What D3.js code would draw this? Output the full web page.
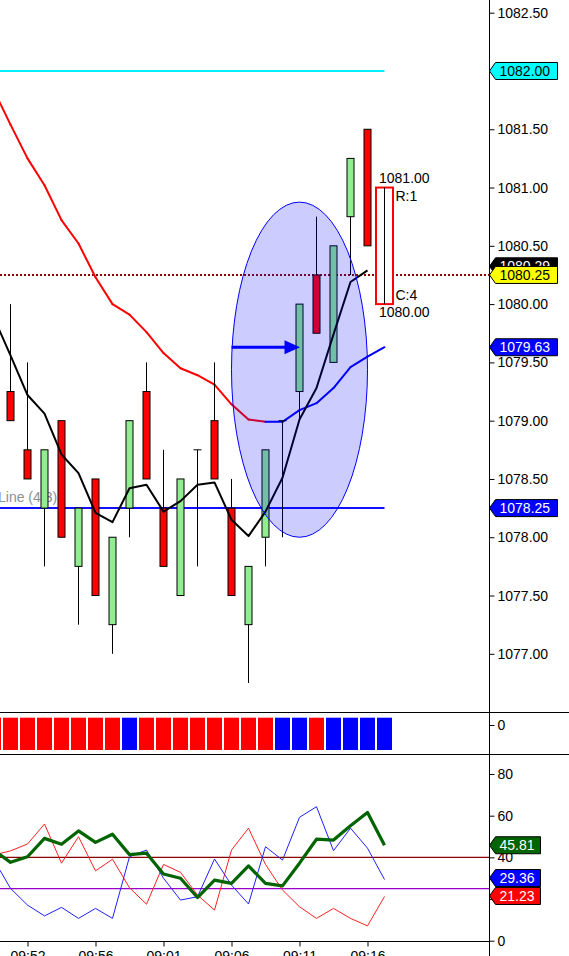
<!DOCTYPE html>
<html><head><meta charset="utf-8">
<script src="https://cdn.jsdelivr.net/npm/d3@7"></script>
<style>html,body{margin:0;padding:0;background:#fff;overflow:hidden}svg{display:block}</style>
</head><body>
<svg id="c" width="569" height="956"></svg>
<script>
// ---------- DATA ----------
// candles, bars 0..21
const opens  = [1079.25,1078.75,1078.25,1079.00,1077.75,1078.50,1077.25,1078.25,1079.25,1078.25,1077.50,1078.75,1079.00,1078.25,1077.25,1078.00,1079.00,1079.25,1080.25,1079.50,1080.75,1081.50];
const highs  = [1080.00,1079.50,1078.75,1079.00,1078.25,1078.50,1078.00,1079.00,1079.50,1078.75,1078.50,1078.75,1079.50,1078.50,1077.75,1078.75,1079.00,1080.00,1080.75,1080.50,1081.25,1081.50];
const lows   = [1079.00,1078.50,1077.75,1078.00,1077.25,1077.50,1077.00,1078.00,1078.50,1077.75,1077.50,1077.75,1078.50,1077.50,1076.75,1077.75,1078.00,1079.00,1079.75,1079.50,1080.25,1080.50];
const closes = [1079.00,1078.50,1078.75,1078.00,1078.25,1077.50,1078.00,1079.00,1078.50,1077.75,1078.50,1078.75,1078.50,1077.50,1077.75,1078.75,1079.00,1080.00,1079.75,1080.50,1081.25,1080.50];
// forming bar (22) range box
const boxBar = 22, boxHigh = 1081.00, boxLow = 1080.00, boxR = "R:1", boxC = "C:4";
// moving averages, bars -1..22 / -1..21
const slowMA = [1081.84,1081.54,1081.25,1081.02,1080.72,1080.52,1080.23,1080.00,1079.91,1079.76,1079.58,1079.45,1079.39,1079.31,1079.14,1079.01,1078.99,1078.99,1079.09,1079.15,1079.28,1079.46,1079.55,1079.63];
const fastMA = [1079.89,1079.56,1079.22,1079.06,1078.71,1078.55,1078.21,1078.13,1078.42,1078.45,1078.22,1078.31,1078.45,1078.47,1078.15,1078.01,1078.22,1078.51,1079.01,1079.28,1079.74,1080.19,1080.29];
// horizontal lines
const cyanLevel = 1082.00, blueLevel = 1078.25, lastPrice = 1080.25;
const lineLabel = "Line (4.3)";
// ellipse / arrow annotation
const ellBars = [13, 21], ellPrices = [1078.00, 1080.875];
const arrowBars = [13, 17], arrowPrice = 1079.63;
// direction panel, bars -1..22 (r = red, b = blue)
const dirColors = ["r","r","r","r","r","r","r","r","b","r","r","r","r","r","r","r","r","b","b","r","b","b","b","b"];
// oscillator panel, bars -1..22
const oscMain = [43.5,37.6,40.3,49.1,46.3,52.7,47.2,51.1,41.3,42.0,32.0,30.0,20.7,29.1,27.5,35.9,27.5,26.3,37.2,48.7,48.3,55.2,61.5,45.81];
const oscBlue = [39.1,25.1,17.1,11.9,16.0,10.7,15.5,10.7,40.3,43.5,30.0,19.5,21.1,39.2,26.7,17.6,45.1,38.7,59.2,64.3,43.2,54.0,44.4,29.36];
const oscRed  = [41.1,43.1,46.4,56.0,37.2,49.9,33.5,39.1,25.4,17.5,36.6,32.8,21.9,14.7,43.5,54.0,36.6,24.3,16.3,10.7,15.5,10.7,7.1,21.23];
const oscLevels = [40, 25];
// axes (labels hidden behind tags are left out: 1082.00 and 20)
const priceTicks = [1077.00,1077.50,1078.00,1078.50,1079.00,1079.50,1080.00,1080.50,1081.00,1081.50,1082.50];
const oscTicks = [0,40,60,80];
const timeLabels = ["09:52","09:56","09:01","09:06","09:11","09:16"];
const timeBars = [1,5,9,13,17,21];

// ---------- SCALES ----------
const FONT = "'Liberation Sans', Arial, sans-serif";
const svg = d3.select("#c");
const AX = 489.5;
const x = d3.scaleLinear().domain([-1, 22]).range([-6.5, 384.5]);
const y = d3.scaleLinear().domain([1077, 1082.5]).range([653.8, 12.7]);
const yo = d3.scaleLinear().domain([0, 80]).range([940.7, 774]);

const main = svg.append("g");
svg.append("clipPath").attr("id","mc").append("rect").attr("x",0).attr("y",0).attr("width",AX).attr("height",712);
const mg = main.append("g").attr("clip-path","url(#mc)");

// horizontal lines
mg.append("line").attr("x1",0).attr("x2",x(22)).attr("y1",y(cyanLevel)).attr("y2",y(cyanLevel))
  .attr("stroke","#00f0ff").attr("stroke-width",2);
mg.append("line").attr("x1",0).attr("x2",x(22)).attr("y1",y(blueLevel)).attr("y2",y(blueLevel))
  .attr("stroke","#1010ff").attr("stroke-width",2);
mg.append("text").attr("x",-2).attr("y",y(blueLevel)-6).attr("font-family",FONT).attr("font-size",14)
  .attr("fill","#8a8f9a").text(lineLabel);
mg.append("line").attr("x1",0).attr("x2",AX).attr("y1",y(lastPrice)).attr("y2",y(lastPrice))
  .attr("stroke","#8b0000").attr("stroke-width",2).attr("stroke-dasharray","2,2");

// slow MA colored by direction
const slowIdx = d3.range(-1, 23);
for (let i = 0; i < slowMA.length - 1; i++) {
  const up = slowMA[i+1] >= slowMA[i];
  mg.append("line").attr("x1",x(slowIdx[i])).attr("y1",y(slowMA[i]))
    .attr("x2",x(slowIdx[i+1])).attr("y2",y(slowMA[i+1]))
    .attr("stroke", up ? "#0000ff" : "#ff0000").attr("stroke-width",2).attr("stroke-linecap","round");
}

// candles
const cg = mg.append("g");
opens.forEach((o, i) => {
  const cx = x(i), c = closes[i], h = highs[i], l = lows[i];
  cg.append("line").attr("x1",cx).attr("x2",cx).attr("y1",y(h)).attr("y2",y(l)).attr("stroke","#000").attr("stroke-width",1);
  if (o === c) {
    cg.append("line").attr("x1",cx-4).attr("x2",cx+4).attr("y1",y(o)).attr("y2",y(o)).attr("stroke","#000").attr("stroke-width",1);
  } else {
    const top = y(Math.max(o,c)), bot = y(Math.min(o,c));
    cg.append("rect").attr("x",cx-3.5).attr("width",7).attr("y",top).attr("height",bot-top)
      .attr("fill", c > o ? "#90ee90" : "#ff0000").attr("stroke","#000").attr("stroke-width",1);
  }
});

// fast MA
mg.append("path").datum(fastMA).attr("fill","none").attr("stroke","#000").attr("stroke-width",2)
  .attr("stroke-linejoin","round")
  .attr("d", d3.line().x((d,i)=>x(i-1)).y(d=>y(d)));

// ellipse (semi transparent, on top)
const ecx = (x(ellBars[0])+x(ellBars[1]))/2, ecy = (y(ellPrices[0])+y(ellPrices[1]))/2;
mg.append("ellipse").attr("cx",ecx).attr("cy",ecy)
  .attr("rx",(x(ellBars[1])-x(ellBars[0]))/2).attr("ry",(y(ellPrices[0])-y(ellPrices[1]))/2)
  .attr("fill","rgba(0,0,255,0.2)").attr("stroke","#0000ff").attr("stroke-width",1);

// arrow
const ax0 = x(arrowBars[0]), ax1 = x(arrowBars[1]), ay = y(arrowPrice);
mg.append("line").attr("x1",ax0).attr("x2",ax1-12).attr("y1",ay).attr("y2",ay).attr("stroke","#0000ff").attr("stroke-width",3);
mg.append("path").attr("d",`M${ax1-15},${ay-7}L${ax1+0.5},${ay}L${ax1-15},${ay+7}Z`).attr("fill","#0000ff");

// forming bar box
const bx = x(boxBar);
mg.append("rect").attr("x",bx-8.5).attr("width",17).attr("y",y(boxHigh)).attr("height",y(boxLow)-y(boxHigh))
  .attr("fill","#fff").attr("stroke","#ff0000").attr("stroke-width",2);
mg.append("line").attr("x1",bx).attr("x2",bx).attr("y1",y(boxHigh)).attr("y2",y(boxLow)).attr("stroke","#000").attr("stroke-width",1);
const tstyle = s => s.attr("font-family",FONT).attr("font-size",14).attr("fill","#000");
mg.append("text").attr("x",bx-5.5).attr("y",y(boxHigh)-5).text(boxHigh.toFixed(2)).call(tstyle);
mg.append("text").attr("x",bx+11).attr("y",y(boxHigh)+13).text(boxR).call(tstyle);
mg.append("text").attr("x",bx+11).attr("y",y(boxLow)-4).text(boxC).call(tstyle);
mg.append("text").attr("x",bx-5.5).attr("y",y(boxLow)+13).text(boxLow.toFixed(2)).call(tstyle);

// ---------- direction panel ----------
dirColors.forEach((c, i) => {
  svg.append("rect").attr("x",x(i-1)-7.5).attr("width",15).attr("y",717.7).attr("height",32.3)
    .attr("fill", c === "r" ? "#ff0000" : "#0000ff");
});

// ---------- oscillator panel ----------
oscLevels.forEach((v, k) => {
  svg.append("line").attr("x1",0).attr("x2",AX).attr("y1",yo(v)).attr("y2",yo(v))
    .attr("stroke", k === 0 ? "#8b0000" : "#9900cc").attr("stroke-width",1.3);
});
const ol = d3.line().x((d,i)=>x(i-1)).y(d=>yo(d));
svg.append("path").datum(oscRed).attr("fill","none").attr("stroke","#ff2020").attr("stroke-width",1).attr("d",ol);
svg.append("path").datum(oscBlue).attr("fill","none").attr("stroke","#2020ff").attr("stroke-width",1).attr("d",ol);
svg.append("path").datum(oscMain).attr("fill","none").attr("stroke","#006400").attr("stroke-width",3.2)
  .attr("stroke-linejoin","round").attr("d",ol);

// ---------- frame & axes ----------
svg.append("line").attr("x1",0).attr("x2",569).attr("y1",712.5).attr("y2",712.5).attr("stroke","#000");
svg.append("line").attr("x1",0).attr("x2",569).attr("y1",754.5).attr("y2",754.5).attr("stroke","#000");
svg.append("line").attr("x1",AX).attr("x2",AX).attr("y1",0).attr("y2",956).attr("stroke","#000");
svg.append("line").attr("x1",0).attr("x2",AX).attr("y1",941.5).attr("y2",941.5).attr("stroke","#000");

const rAxis = svg.append("g").attr("transform",`translate(${AX},0)`)
  .call(d3.axisRight(y).tickValues(priceTicks).tickSize(5).tickPadding(3).tickFormat(d=>d.toFixed(2)));
const oAxis = svg.append("g").attr("transform",`translate(${AX},0)`)
  .call(d3.axisRight(yo).tickValues(oscTicks).tickSize(5).tickPadding(3).tickFormat(d3.format("d")));
svg.append("g").attr("transform",`translate(${AX},0)`)
  .call(d3.axisRight(yo).tickValues([20]).tickSize(5).tickFormat(""));
const dScale = d3.scaleLinear().domain([0,1]).range([725,700]);
const dAxis = svg.append("g").attr("transform",`translate(${AX},0)`)
  .call(d3.axisRight(dScale).tickValues([0]).tickSize(5).tickPadding(3).tickFormat(d3.format("d")));
const xAxis = svg.append("g").attr("transform","translate(0,941.5)")
  .call(d3.axisBottom(x).tickValues(timeBars).tickSize(5).tickPadding(5).tickFormat((d,i)=>timeLabels[i]));
[rAxis,oAxis,dAxis,xAxis].forEach(a=>{
  a.select(".domain").remove();
  a.selectAll("text").attr("font-family",FONT).attr("font-size",14).attr("fill","#000");
  a.selectAll("line").attr("stroke","#000");
});
svg.selectAll(".domain").remove();

// ---------- tags ----------
function tag(yc, txt, fill, tc, w) {
  const g = svg.append("g");
  g.append("path").attr("d",`M${AX},${yc}L${AX+6},${yc-8.5}L${AX+6+w},${yc-8.5}L${AX+6+w},${yc+8.5}L${AX+6},${yc+8.5}Z`)
    .attr("fill",fill).attr("stroke","#000").attr("stroke-width",1);
  g.append("text").attr("x",AX+10).attr("y",yc).attr("dy","0.36em").attr("font-family",FONT).attr("font-size",14)
    .attr("fill",tc).text(txt);
}
tag(y(cyanLevel), cyanLevel.toFixed(2), "#00ffff", "#000", 62);
tag(y(fastMA[fastMA.length-1]) - 4, fastMA[fastMA.length-1].toFixed(2), "#000", "#fff", 62);
tag(y(lastPrice), lastPrice.toFixed(2), "#ffff00", "#000", 62);
tag(y(slowMA[slowMA.length-1]), slowMA[slowMA.length-1].toFixed(2), "#0000ff", "#fff", 62);
tag(y(blueLevel), blueLevel.toFixed(2), "#0000ff", "#fff", 62);
tag(yo(oscMain[oscMain.length-1]), oscMain[oscMain.length-1].toFixed(2), "#006400", "#fff", 45);
tag(yo(oscBlue[oscBlue.length-1]) - 1.5, oscBlue[oscBlue.length-1].toFixed(2), "#0000ff", "#fff", 45);
tag(yo(oscRed[oscRed.length-1]) - 0.5, oscRed[oscRed.length-1].toFixed(2), "#ff0000", "#fff", 45);
</script>
</body></html>
